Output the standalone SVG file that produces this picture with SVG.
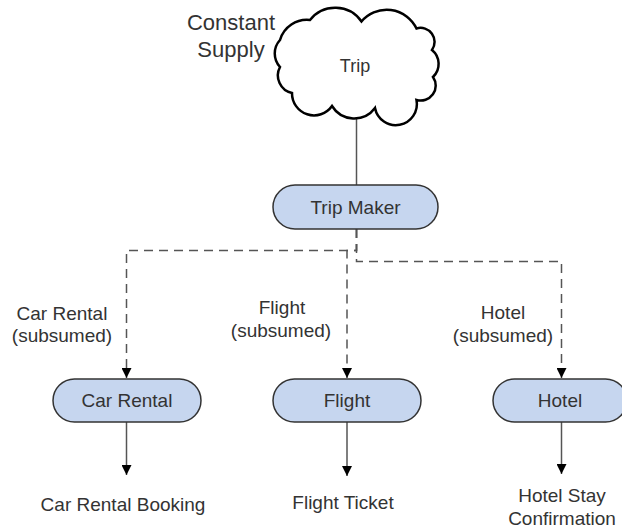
<svg xmlns="http://www.w3.org/2000/svg" width="622" height="529" viewBox="0 0 622 529">
<defs>
<style>
text{font-family:"Liberation Sans",Arial,sans-serif;fill:#333;text-anchor:middle}
.lbl{font-size:19px}
.sm{font-size:18px}
.big{font-size:22px}
.node{fill:#c6d6ef;stroke:#333;stroke-width:1.5}
.solid{fill:none;stroke:#555;stroke-width:1.5}
.dash{fill:none;stroke:#555;stroke-width:1.5;stroke-dasharray:9 6}
</style>
<marker id="arr" markerWidth="10" markerHeight="10" refX="10" refY="5" orient="auto" markerUnits="userSpaceOnUse">
<path d="M0,0 L10,5 L0,10 Z" fill="#000"/>
</marker>
</defs>
<rect width="622" height="529" fill="#fff"/>
<g id="connectors">
<line class="solid" x1="356.5" y1="118" x2="356.5" y2="185"/>
<path class="dash" d="M356.5,229 V250.5 H126.5 V378" marker-end="url(#arr)"/>
<path class="dash" d="M356.5,229 V250.5 H347 V378" marker-end="url(#arr)"/>
<path class="dash" d="M356.5,229 V261.5 H561.5 V378" marker-end="url(#arr)"/>
<line class="solid" x1="126.5" y1="422" x2="126.5" y2="475" marker-end="url(#arr)"/>
<line class="solid" x1="347" y1="422" x2="347" y2="476" marker-end="url(#arr)"/>
<line class="solid" x1="561.5" y1="422" x2="561.5" y2="474" marker-end="url(#arr)"/>
</g>
<g id="trip">
<path d="M280,40 A28,28 0 0 1 310,20 A32,32 0 0 1 361.5,21.5 A33,33 0 0 1 416.5,28.5 A14,14 0 0 1 432,50 A18,18 0 0 1 433,77 A15,15 0 0 1 416.5,100 A20,20 0 0 1 375,108 A26,26 0 0 1 332,106 A22,22 0 0 1 292,93 A18,18 0 0 1 280,67 A20,20 0 0 1 280,40 Z" fill="#fff" stroke="#000" stroke-width="2.5"/>
<text class="sm" x="355" y="72">Trip</text>
<text class="big" x="231" y="30">Constant</text>
<text class="big" x="231" y="57">Supply</text>
</g>
<g id="tripmaker">
<rect class="node" x="273" y="185" width="165" height="44" rx="22"/>
<text class="lbl" x="355.5" y="214">Trip Maker</text>
</g>
<g id="carrental">
<rect class="node" x="53" y="379" width="148" height="43" rx="21.5"/>
<text class="lbl" x="127" y="407">Car Rental</text>
<text class="lbl" x="62" y="320">Car Rental</text>
<text class="lbl" x="62" y="342">(subsumed)</text>
<text class="lbl" x="123" y="511">Car Rental Booking</text>
</g>
<g id="flight">
<rect class="node" x="273" y="379" width="148" height="43" rx="21.5"/>
<text class="lbl" x="347" y="407">Flight</text>
<text class="lbl" x="282" y="314">Flight</text>
<text class="lbl" x="281" y="337">(subsumed)</text>
<text class="lbl" x="343" y="509">Flight Ticket</text>
</g>
<g id="hotel">
<rect class="node" x="493" y="379" width="134" height="43" rx="21.5"/>
<text class="lbl" x="560" y="407">Hotel</text>
<text class="lbl" x="503" y="319">Hotel</text>
<text class="lbl" x="503" y="342">(subsumed)</text>
<text class="lbl" x="562" y="502">Hotel Stay</text>
<text class="lbl" x="562" y="525">Confirmation</text>
</g>
</svg>
